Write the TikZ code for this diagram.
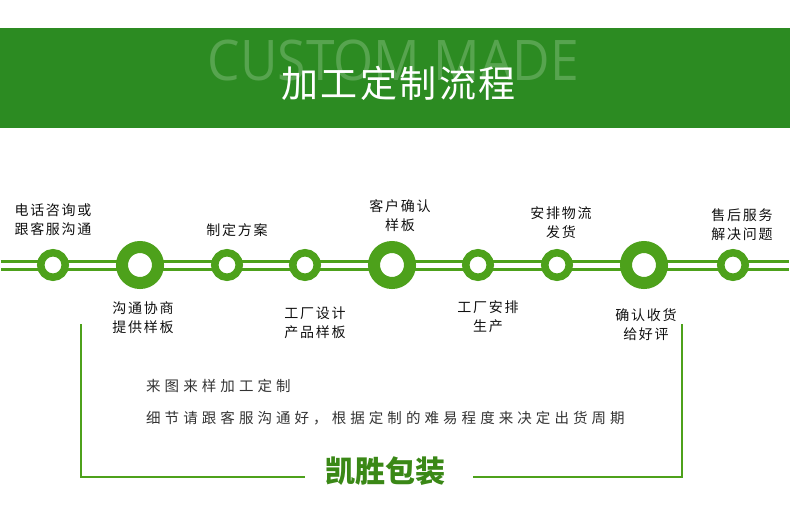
\documentclass[tikz,border=0pt]{standalone}
\usepackage{fontspec}
\setmainfont{Noto Sans CJK SC}
\newfontfamily\cjklabel[LetterSpace=12]{Noto Sans CJK SC}
\newfontfamily\cjknote[LetterSpace=28]{Noto Sans CJK SC}
\newfontfamily\cjktitle[LetterSpace=7]{Noto Sans CJK SC}
\newfontfamily\latinhead{Open Sans}
\usetikzlibrary{positioning}
\definecolor{bandgreen}{HTML}{2C8B22}
\definecolor{ringgreen}{HTML}{4DA11B}
\definecolor{brandgreen}{HTML}{3A8816}
\definecolor{ghost}{HTML}{57A44F}
\definecolor{ink}{HTML}{111111}
\definecolor{muted}{HTML}{333333}
\tikzset{
  band/.style={fill=bandgreen},
  track/.style={
    draw=ringgreen,
    line width=3.6pt,
    double=white,
    double distance=4.2pt
  },
  ring/.style={
    circle,
    draw=ringgreen,
    fill=white,
    line width=7.5pt,
    minimum size=24.5pt,
    inner sep=0pt
  },
  bigring/.style={ring, line width=12pt, minimum size=36pt},
  ghosttext/.style={
    font=\latinhead\fontsize{56}{60}\selectfont,
    text=ghost,
    anchor=base,
    inner sep=0pt
  },
  title/.style={
    font=\cjktitle\fontsize{37}{40}\selectfont,
    text=white,
    inner sep=0pt
  },
  steptext/.style={
    font=\cjklabel\fontsize{14}{19}\selectfont,
    text=ink,
    align=center,
    inner sep=0pt
  },
  notetext/.style={
    font=\cjknote\fontsize{14.5}{18}\selectfont,
    text=muted,
    anchor=west,
    inner sep=0pt
  },
  brand/.style={
    font=\bfseries\fontsize{30}{34}\selectfont,
    text=brandgreen,
    inner sep=0pt
  },
  bracket/.style={draw=ringgreen, line width=2pt}
}

\begin{document}
\begin{tikzpicture}[x=1pt, y=-1pt]
  \useasboundingbox (0,0) rectangle (790,531);

  % header band
  \fill[band] (0,28) rectangle (790,128);
  \node[ghosttext] (ghost) at (393.5,80) {\scalebox{0.92}[1]{CUSTOM MADE}};
  \node[title] (head) at (398.5,83.5) {加工定制流程};

  % process line
  \coordinate (trackL) at (0.5,265.5);
  \coordinate (trackR) at (789,265.5);
  \draw[track] (trackL) -- (trackR);

  \node[ring] (c1) at (53,265) {};
  \node[bigring] (c2) at (140,265) {};
  \node[ring] (c3) at (227,265) {};
  \node[ring] (c4) at (305,265) {};
  \node[bigring] (c5) at (392,265) {};
  \node[ring] (c6) at (478,265) {};
  \node[ring] (c7) at (557,265) {};
  \node[bigring] (c8) at (644,265) {};
  \node[ring] (c9) at (733,265) {};

  \node[steptext] (t1) at (53,220) {电话咨询或\\跟客服沟通};
  \node[steptext] (t3) at (237,230) {制定方案};
  \node[steptext] (t5) at (400,216) {客户确认\\样板};
  \node[steptext] (t7) at (561,223) {安排物流\\发货};
  \node[steptext] (t9) at (742,225) {售后服务\\解决问题};

  \node[steptext] (b2) at (143,318) {沟通协商\\提供样板};
  \node[steptext] (b4) at (315,323) {工厂设计\\产品样板};
  \node[steptext] (b6) at (488,317) {工厂安排\\生产};
  \node[steptext] (b8) at (646,325) {确认收货\\给好评};

  % notes and bracket
  \node[notetext] (note1) at (146,386) {来图来样加工定制};
  \node[notetext] (note2) at (146,418) {细节请跟客服沟通好，根据定制的难易程度来决定出货周期};

  \node[brand] (brandname) at (385,471) {凯胜包装};

  \coordinate (brL) at (81,324);
  \coordinate (brLB) at (305,477);
  \coordinate (brR) at (682,324);
  \coordinate (brRB) at (473,477);
  \draw[bracket] (brL) |- (brLB);
  \draw[bracket] (brR) |- (brRB);
\end{tikzpicture}
\end{document}
